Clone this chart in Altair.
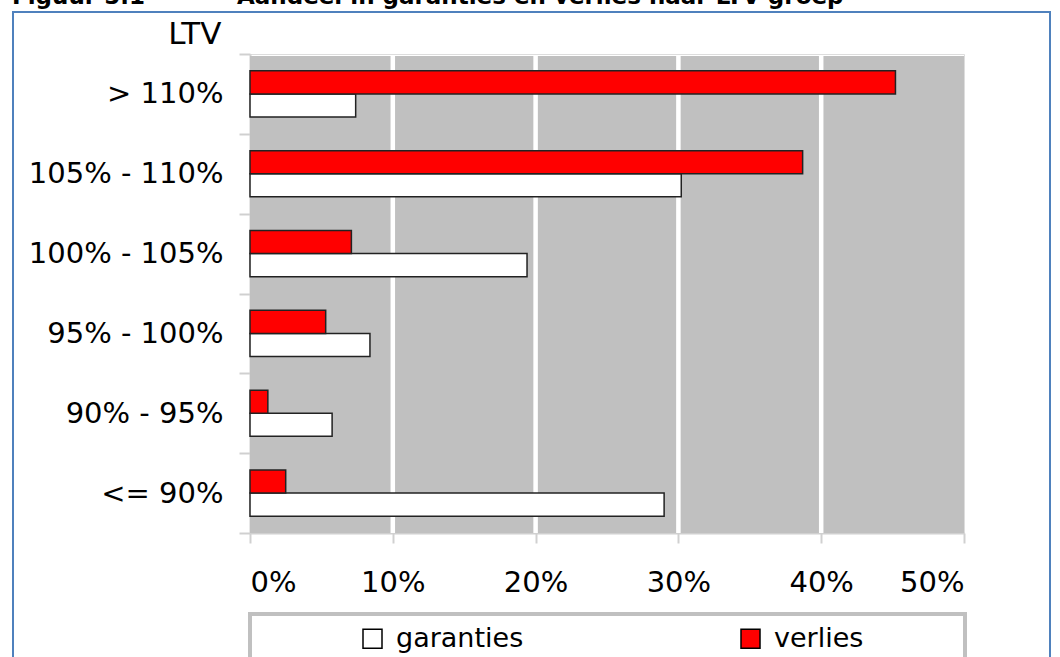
import altair as alt
import pandas as pd

# LTV groups, top to bottom
groepen = ["> 110%", "105% - 110%", "100% - 105%", "95% - 100%", "90% - 95%", "<= 90%"]
# share of guarantees and of losses per LTV group (fractions)
garanties = [0.074, 0.302, 0.194, 0.084, 0.0575, 0.290]
verlies = [0.452, 0.387, 0.071, 0.053, 0.0125, 0.025]
reeksen = ["garanties", "verlies"]
kleuren = ["#ffffff", "#ff0000"]
x_ticks = [0.0, 0.1, 0.2, 0.3, 0.4, 0.5]
grid_lijnen = [0.1, 0.2, 0.3, 0.4]

rows = []
for g, ga, ve in zip(groepen, garanties, verlies):
    rows.append({"LTV": g, "reeks": "garanties", "aandeel": ga})
    rows.append({"LTV": g, "reeks": "verlies", "aandeel": ve})
df = pd.DataFrame(rows)
grid_df = pd.DataFrame({"aandeel": grid_lijnen})

FONT = "DejaVu Sans"
one = pd.DataFrame({"k": [0]})

x_scale = alt.Scale(domain=[0, 0.5], nice=False)

# blue frame around the figure
frame = alt.Chart(one).mark_rect(
    fill=None, stroke="#4f81bd", strokeWidth=2
).encode(
    x=alt.value(-237), x2=alt.value(800), y=alt.value(-42), y2=alt.value(640)
)

# figure caption (partly above the visible page)
cap1 = alt.Chart(one).mark_text(
    text="Figuur 5.1", font="DejaVu Sans", fontWeight="bold", fontSize=23,
    align="left", baseline="alphabetic", color="black"
).encode(x=alt.value(-238), y=alt.value(-50))
cap2 = alt.Chart(one).mark_text(
    text="Aandeel in garanties en verlies naar LTV-groep", font="DejaVu Sans",
    fontWeight="bold", fontSize=23, align="left", baseline="alphabetic", color="black"
).encode(x=alt.value(-13), y=alt.value(-50))

# grey plot background
plot_bg = alt.Chart(one).mark_rect(fill="#c0c0c0").encode(
    x=alt.datum(0, scale=x_scale), x2=alt.datum(0.5),
    y=alt.value(2), y2=alt.value(479),
)

# white vertical gridlines
grid = alt.Chart(grid_df).mark_rule(color="white", strokeWidth=4.5).encode(
    x=alt.X("aandeel:Q", scale=x_scale),
    y=alt.value(2), y2=alt.value(479),
)

# box behind the legend
legend_box = alt.Chart(one).mark_rect(
    fill="white", stroke="#c0c0c0", strokeWidth=4
).encode(
    x=alt.value(0), x2=alt.value(715), y=alt.value(560), y2=alt.value(640)
)

bars = alt.Chart(df).mark_bar(stroke="#222222", strokeWidth=1.5).encode(
    y=alt.Y(
        "LTV:N", sort=groepen,
        scale=alt.Scale(paddingInner=0, paddingOuter=0),
        axis=alt.Axis(
            title="LTV", titleAngle=0, titleAlign="right", titleBaseline="alphabetic",
            titleX=-29, titleY=-11, titleFontSize=31, titleFontWeight="normal",
            titleFont=FONT, titleColor="black",
            labelFont=FONT, labelFontSize=29, labelColor="black", labelPadding=16,
            labelLimit=260,
            tickBand="extent", tickSize=11, tickColor="#d0d0d0", tickWidth=2,
            domainColor="#d0d0d0", domainWidth=2, grid=False,
        ),
    ),
    yOffset=alt.YOffset(
        "reeks:N", sort=["verlies", "garanties"],
        scale=alt.Scale(paddingInner=0, paddingOuter=0.73),
    ),
    x=alt.X(
        "aandeel:Q",
        scale=x_scale,
        axis=alt.Axis(
            title=None, values=x_ticks, format=".0%",
            labelFont=FONT, labelFontSize=29, labelColor="black", labelPadding=25,
            tickSize=10, tickColor="#d0d0d0", tickWidth=2,
            domainColor="#d0d0d0", domainWidth=2, grid=False,
        ),
    ),
    color=alt.Color(
        "reeks:N",
        scale=alt.Scale(domain=reeksen, range=kleuren),
        legend=alt.Legend(
            title=None, orient="none", legendX=109, legendY=571,
            direction="horizontal", symbolType="square", symbolSize=361,
            symbolStrokeColor="black", symbolStrokeWidth=1.5, symbolOpacity=1,
            labelFont=FONT, labelFontSize=27, labelColor="black", labelOffset=10,
            columnPadding=213, padding=0, labelLimit=300,
        ),
    ),
)

chart = alt.layer(frame, legend_box, plot_bg, grid, bars, cap1, cap2).properties(
    width=714, height=479,
    autosize=alt.AutoSizeParams(type="none"),
    padding={"left": 250, "top": 54, "right": 96, "bottom": 124},
).configure_view(
    strokeWidth=0
).configure(background="white")

chart.save("out.html", embed_options={"renderer": "svg", "actions": False})
